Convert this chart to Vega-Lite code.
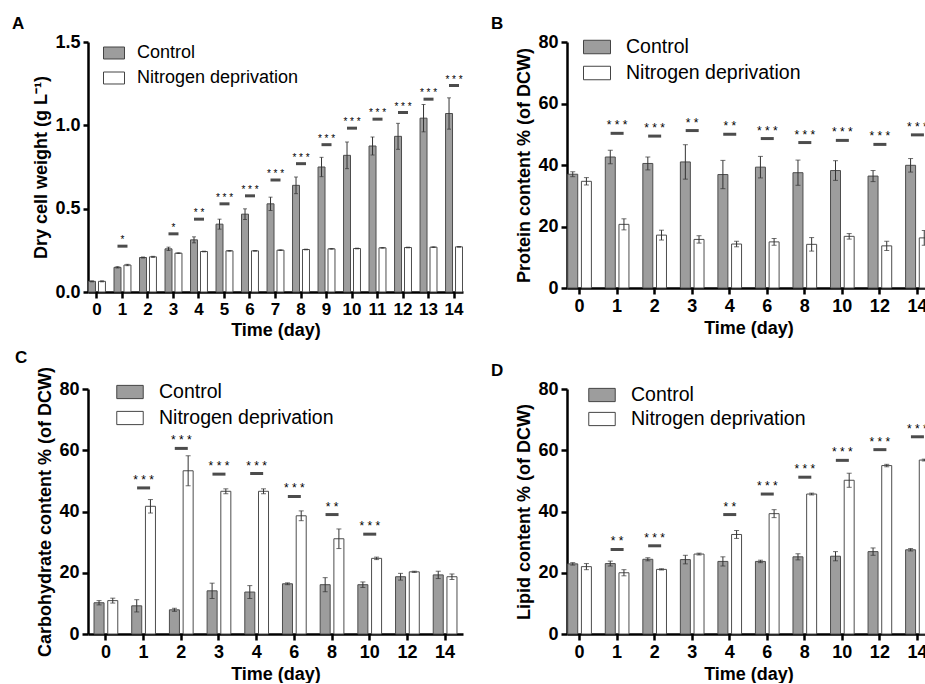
{
"$schema":"https://vega.github.io/schema/vega-lite/v6.json",
"padding":{"left":12,"top":15,"right":0,"bottom":0},
"columns":2,
"spacing":{"row":9,"column":28},
"config":{"font":"Liberation Sans","view":{"stroke":null},
"axis":{"domainColor":"#000","domainWidth":2.5,"tickColor":"#000","tickWidth":2.5,"tickSize":6,"labelFontWeight":"bold","labelFontSize":18,"labelColor":"#000","titleFontWeight":"bold","titleFontSize":18,"titleColor":"#000","grid":false,"labelPadding":3},
"axisX":{"labelAngle":0,"titlePadding":4},
"axisY":{"titlePadding":4},
"legend":{"padding":0,"labelFontWeight":"normal","labelColor":"#000","symbolStrokeColor":"#444","symbolStrokeWidth":1,"title":null,"labelLimit":0},
"title":{"fontSize":17,"fontWeight":"bold","color":"#000","anchor":"start","frame":"group"}},
"resolve":{"scale":{"x":"independent","y":"independent","fill":"independent","xOffset":"independent"}},
"concat":[
{"title":{"text":"A","dx":-76,"offset":0},
"width":375,"height":250,
"data":{"values":[
{"day":"0","g":"Control","v":0.064,"lo":0.061,"hi":0.067},
{"day":"1","g":"Control","v":0.148,"lo":0.144,"hi":0.152},
{"day":"2","g":"Control","v":0.207,"lo":0.204,"hi":0.210},
{"day":"3","g":"Control","v":0.259,"lo":0.249,"hi":0.269},
{"day":"4","g":"Control","v":0.313,"lo":0.295,"hi":0.331},
{"day":"5","g":"Control","v":0.407,"lo":0.377,"hi":0.437},
{"day":"6","g":"Control","v":0.467,"lo":0.435,"hi":0.499},
{"day":"7","g":"Control","v":0.529,"lo":0.489,"hi":0.569},
{"day":"8","g":"Control","v":0.640,"lo":0.590,"hi":0.690},
{"day":"9","g":"Control","v":0.750,"lo":0.692,"hi":0.808},
{"day":"10","g":"Control","v":0.820,"lo":0.740,"hi":0.900},
{"day":"11","g":"Control","v":0.876,"lo":0.822,"hi":0.930},
{"day":"12","g":"Control","v":0.934,"lo":0.856,"hi":1.012},
{"day":"13","g":"Control","v":1.043,"lo":0.961,"hi":1.125},
{"day":"14","g":"Control","v":1.071,"lo":0.977,"hi":1.165},
{"day":"0","g":"Nitrogen deprivation","v":0.064,"lo":0.061,"hi":0.067},
{"day":"1","g":"Nitrogen deprivation","v":0.162,"lo":0.158,"hi":0.166},
{"day":"2","g":"Nitrogen deprivation","v":0.211,"lo":0.208,"hi":0.214},
{"day":"3","g":"Nitrogen deprivation","v":0.233,"lo":0.231,"hi":0.235},
{"day":"4","g":"Nitrogen deprivation","v":0.243,"lo":0.241,"hi":0.245},
{"day":"5","g":"Nitrogen deprivation","v":0.247,"lo":0.245,"hi":0.249},
{"day":"6","g":"Nitrogen deprivation","v":0.247,"lo":0.245,"hi":0.249},
{"day":"7","g":"Nitrogen deprivation","v":0.251,"lo":0.249,"hi":0.253},
{"day":"8","g":"Nitrogen deprivation","v":0.255,"lo":0.253,"hi":0.257},
{"day":"9","g":"Nitrogen deprivation","v":0.259,"lo":0.257,"hi":0.261},
{"day":"10","g":"Nitrogen deprivation","v":0.261,"lo":0.259,"hi":0.263},
{"day":"11","g":"Nitrogen deprivation","v":0.265,"lo":0.263,"hi":0.267},
{"day":"12","g":"Nitrogen deprivation","v":0.267,"lo":0.265,"hi":0.269},
{"day":"13","g":"Nitrogen deprivation","v":0.269,"lo":0.267,"hi":0.271},
{"day":"14","g":"Nitrogen deprivation","v":0.271,"lo":0.269,"hi":0.273}
]},
"encoding":{"x":{"field":"day","type":"nominal","scale":{"domain":["0","1","2","3","4","5","6","7","8","9","10","11","12","13","14"],"paddingInner":0.336,"paddingOuter":0.02},"axis":{"title":"Time (day)","labelFontSize":17}}},
"layer":[
{"mark":{"type":"bar","stroke":"#4d4d4d","strokeWidth":1},
"encoding":{"xOffset":{"field":"g","type":"nominal","scale":{"domain":["Control","Nitrogen deprivation"],"paddingInner":0.3}},
"y":{"field":"v","type":"quantitative","scale":{"domain":[0,1.5],"nice":false},"axis":{"values":[0,0.5,1,1.5],"format":".1f","title":"Dry cell weight (g L⁻¹)","tickSize":5}},
"fill":{"field":"g","type":"nominal","scale":{"domain":["Control","Nitrogen deprivation"],"range":["#9d9d9d","#ffffff"]},
"legend":{"orient":"none","legendX":15,"legendY":0,"symbolType":"M-1,-0.57H1V0.57H-1Z","symbolSize":441,"labelFontSize":18,"labelOffset":12,"rowPadding":5}}}},
{"mark":{"type":"rule","color":"#333","strokeWidth":1},"encoding":{"xOffset":{"field":"g","type":"nominal"},"y":{"field":"lo","type":"quantitative","scale":{"domain":[0,1.5],"nice":false}},"y2":{"field":"hi"}}},
{"mark":{"type":"tick","color":"#333","thickness":1,"size":4},"encoding":{"xOffset":{"field":"g","type":"nominal"},"y":{"field":"lo","type":"quantitative","scale":{"domain":[0,1.5],"nice":false}}}},
{"mark":{"type":"tick","color":"#333","thickness":1,"size":4},"encoding":{"xOffset":{"field":"g","type":"nominal"},"y":{"field":"hi","type":"quantitative","scale":{"domain":[0,1.5],"nice":false}}}},
{"data":{"values":[
{"day":"1","s":0.275,"t":"*"},{"day":"3","s":0.349,"t":"*"},{"day":"4","s":0.437,"t":"* *"},{"day":"5","s":0.529,"t":"* * *"},{"day":"6","s":0.577,"t":"* * *"},{"day":"7","s":0.672,"t":"* * *"},{"day":"8","s":0.770,"t":"* * *"},{"day":"9","s":0.884,"t":"* * *"},{"day":"10","s":0.983,"t":"* * *"},{"day":"11","s":1.037,"t":"* * *"},{"day":"12","s":1.077,"t":"* * *"},{"day":"13","s":1.157,"t":"* * *"},{"day":"14","s":1.239,"t":"* * *"}]},
"layer":[
{"mark":{"type":"tick","color":"#000","thickness":3,"size":10},"encoding":{"y":{"field":"s","type":"quantitative","scale":{"domain":[0,1.5],"nice":false}}}},
{"mark":{"type":"text","baseline":"alphabetic","dy":-3,"fontSize":10,"color":"#000"},"encoding":{"y":{"field":"s","type":"quantitative","scale":{"domain":[0,1.5],"nice":false}},"text":{"field":"t"}}}
]}
]},
{"title":{"text":"B","dx":-76,"offset":0},
"width":363,"height":246,
"data":{"values":[
{"day":"0","g":"Control","v":37.0,"lo":36.2,"hi":37.8},
{"day":"1","g":"Control","v":42.6,"lo":40.4,"hi":44.8},
{"day":"2","g":"Control","v":40.5,"lo":38.4,"hi":42.6},
{"day":"3","g":"Control","v":41.0,"lo":35.4,"hi":46.6},
{"day":"4","g":"Control","v":36.9,"lo":32.3,"hi":41.5},
{"day":"6","g":"Control","v":39.3,"lo":35.8,"hi":42.8},
{"day":"8","g":"Control","v":37.5,"lo":33.4,"hi":41.6},
{"day":"10","g":"Control","v":38.2,"lo":35.0,"hi":41.4},
{"day":"12","g":"Control","v":36.4,"lo":34.6,"hi":38.2},
{"day":"14","g":"Control","v":39.9,"lo":37.7,"hi":42.1},
{"day":"0","g":"Nitrogen deprivation","v":34.7,"lo":33.5,"hi":35.9},
{"day":"1","g":"Nitrogen deprivation","v":20.7,"lo":18.9,"hi":22.5},
{"day":"2","g":"Nitrogen deprivation","v":17.2,"lo":15.6,"hi":18.8},
{"day":"3","g":"Nitrogen deprivation","v":15.8,"lo":14.6,"hi":17.0},
{"day":"4","g":"Nitrogen deprivation","v":14.3,"lo":13.4,"hi":15.2},
{"day":"6","g":"Nitrogen deprivation","v":15.0,"lo":13.9,"hi":16.1},
{"day":"8","g":"Nitrogen deprivation","v":14.2,"lo":12.0,"hi":16.4},
{"day":"10","g":"Nitrogen deprivation","v":16.8,"lo":15.9,"hi":17.7},
{"day":"12","g":"Nitrogen deprivation","v":13.7,"lo":12.2,"hi":15.2},
{"day":"14","g":"Nitrogen deprivation","v":16.3,"lo":13.9,"hi":18.7}
]},
"encoding":{"x":{"field":"day","type":"nominal","scale":{"domain":["0","1","2","3","4","6","8","10","12","14"],"paddingInner":0.37,"paddingOuter":0.02},"axis":{"title":"Time (day)"}}},
"layer":[
{"mark":{"type":"bar","stroke":"#4d4d4d","strokeWidth":1},
"encoding":{"xOffset":{"field":"g","type":"nominal","scale":{"domain":["Control","Nitrogen deprivation"],"paddingInner":0.27}},
"y":{"field":"v","type":"quantitative","scale":{"domain":[0,80],"nice":false},"axis":{"values":[0,20,40,60,80],"title":"Protein content % (of DCW)"}},
"fill":{"field":"g","type":"nominal","scale":{"domain":["Control","Nitrogen deprivation"],"range":["#9d9d9d","#ffffff"]},
"legend":{"orient":"none","legendX":16,"legendY":-9,"symbolType":"M-1,-0.5H1V0.5H-1Z","symbolSize":729,"labelFontSize":19.5,"labelOffset":15,"rowPadding":2}}}},
{"mark":{"type":"rule","color":"#333","strokeWidth":1},"encoding":{"xOffset":{"field":"g","type":"nominal"},"y":{"field":"lo","type":"quantitative","scale":{"domain":[0,80],"nice":false}},"y2":{"field":"hi"}}},
{"mark":{"type":"tick","color":"#333","thickness":1,"size":5},"encoding":{"xOffset":{"field":"g","type":"nominal"},"y":{"field":"lo","type":"quantitative","scale":{"domain":[0,80],"nice":false}}}},
{"mark":{"type":"tick","color":"#333","thickness":1,"size":5},"encoding":{"xOffset":{"field":"g","type":"nominal"},"y":{"field":"hi","type":"quantitative","scale":{"domain":[0,80],"nice":false}}}},
{"data":{"values":[
{"day":"1","s":50.3,"t":"* * *"},{"day":"2","s":49.4,"t":"* * *"},{"day":"3","s":51.2,"t":"* *"},{"day":"4","s":50.0,"t":"* *"},{"day":"6","s":48.6,"t":"* * *"},{"day":"8","s":47.3,"t":"* * *"},{"day":"10","s":48.0,"t":"* * *"},{"day":"12","s":46.7,"t":"* * *"},{"day":"14","s":49.8,"t":"* * *"}]},
"layer":[
{"mark":{"type":"tick","color":"#000","thickness":3,"size":13},"encoding":{"y":{"field":"s","type":"quantitative","scale":{"domain":[0,80],"nice":false}}}},
{"mark":{"type":"text","baseline":"alphabetic","dy":-4,"fontSize":12,"color":"#000"},"encoding":{"y":{"field":"s","type":"quantitative","scale":{"domain":[0,80],"nice":false}},"text":{"field":"t"}}}
]}
]},
{"title":{"text":"C","dx":-73,"offset":0},
"width":375,"height":245,
"data":{"values":[
{"day":"0","g":"Control","v":10.2,"lo":9.5,"hi":10.9},
{"day":"1","g":"Control","v":9.2,"lo":7.2,"hi":11.2},
{"day":"2","g":"Control","v":7.9,"lo":7.4,"hi":8.4},
{"day":"3","g":"Control","v":14.1,"lo":11.6,"hi":16.6},
{"day":"4","g":"Control","v":13.7,"lo":11.6,"hi":15.8},
{"day":"6","g":"Control","v":16.4,"lo":16.1,"hi":16.7},
{"day":"8","g":"Control","v":16.1,"lo":13.8,"hi":18.4},
{"day":"10","g":"Control","v":16.1,"lo":15.2,"hi":17.0},
{"day":"12","g":"Control","v":18.7,"lo":17.6,"hi":19.8},
{"day":"14","g":"Control","v":19.3,"lo":18.1,"hi":20.5},
{"day":"0","g":"Nitrogen deprivation","v":10.9,"lo":10.1,"hi":11.7},
{"day":"1","g":"Nitrogen deprivation","v":41.7,"lo":39.5,"hi":43.9},
{"day":"2","g":"Nitrogen deprivation","v":53.3,"lo":48.4,"hi":58.2},
{"day":"3","g":"Nitrogen deprivation","v":46.6,"lo":45.8,"hi":47.4},
{"day":"4","g":"Nitrogen deprivation","v":46.6,"lo":45.8,"hi":47.4},
{"day":"6","g":"Nitrogen deprivation","v":38.6,"lo":37.0,"hi":40.2},
{"day":"8","g":"Nitrogen deprivation","v":31.1,"lo":27.9,"hi":34.3},
{"day":"10","g":"Nitrogen deprivation","v":24.7,"lo":24.3,"hi":25.1},
{"day":"12","g":"Nitrogen deprivation","v":20.3,"lo":20.1,"hi":20.5},
{"day":"14","g":"Nitrogen deprivation","v":18.7,"lo":17.8,"hi":19.6}
]},
"encoding":{"x":{"field":"day","type":"nominal","scale":{"domain":["0","1","2","3","4","6","8","10","12","14"],"paddingInner":0.37,"paddingOuter":0.16},"axis":{"title":"Time (day)"}}},
"layer":[
{"mark":{"type":"bar","stroke":"#4d4d4d","strokeWidth":1},
"encoding":{"xOffset":{"field":"g","type":"nominal","scale":{"domain":["Control","Nitrogen deprivation"],"paddingInner":0.27}},
"y":{"field":"v","type":"quantitative","scale":{"domain":[0,80],"nice":false},"axis":{"values":[0,20,40,60,80],"title":"Carbohydrate content % (of DCW)"}},
"fill":{"field":"g","type":"nominal","scale":{"domain":["Control","Nitrogen deprivation"],"range":["#9d9d9d","#ffffff"]},
"legend":{"orient":"none","legendX":28,"legendY":-11,"symbolType":"M-1,-0.5H1V0.5H-1Z","symbolSize":700,"labelFontSize":19.5,"labelOffset":15,"rowPadding":2}}}},
{"mark":{"type":"rule","color":"#333","strokeWidth":1},"encoding":{"xOffset":{"field":"g","type":"nominal"},"y":{"field":"lo","type":"quantitative","scale":{"domain":[0,80],"nice":false}},"y2":{"field":"hi"}}},
{"mark":{"type":"tick","color":"#333","thickness":1,"size":5},"encoding":{"xOffset":{"field":"g","type":"nominal"},"y":{"field":"lo","type":"quantitative","scale":{"domain":[0,80],"nice":false}}}},
{"mark":{"type":"tick","color":"#333","thickness":1,"size":5},"encoding":{"xOffset":{"field":"g","type":"nominal"},"y":{"field":"hi","type":"quantitative","scale":{"domain":[0,80],"nice":false}}}},
{"data":{"values":[
{"day":"1","s":47.7,"t":"* * *"},{"day":"2","s":60.6,"t":"* * *"},{"day":"3","s":52.2,"t":"* * *"},{"day":"4","s":52.4,"t":"* * *"},{"day":"6","s":44.9,"t":"* * *"},{"day":"8","s":39.0,"t":"* *"},{"day":"10","s":32.6,"t":"* * *"}]},
"layer":[
{"mark":{"type":"tick","color":"#000","thickness":3,"size":13},"encoding":{"y":{"field":"s","type":"quantitative","scale":{"domain":[0,80],"nice":false}}}},
{"mark":{"type":"text","baseline":"alphabetic","dy":-4,"fontSize":12,"color":"#000"},"encoding":{"y":{"field":"s","type":"quantitative","scale":{"domain":[0,80],"nice":false}},"text":{"field":"t"}}}
]}
]},
{"title":{"text":"D","dx":-76,"offset":0},
"width":363,"height":245,
"data":{"values":[
{"day":"0","g":"Control","v":22.9,"lo":22.5,"hi":23.3},
{"day":"1","g":"Control","v":23.0,"lo":22.2,"hi":23.8},
{"day":"2","g":"Control","v":24.4,"lo":23.9,"hi":24.9},
{"day":"3","g":"Control","v":24.3,"lo":22.9,"hi":25.7},
{"day":"4","g":"Control","v":23.7,"lo":22.2,"hi":25.2},
{"day":"6","g":"Control","v":23.7,"lo":23.3,"hi":24.1},
{"day":"8","g":"Control","v":25.2,"lo":24.2,"hi":26.2},
{"day":"10","g":"Control","v":25.4,"lo":23.9,"hi":26.9},
{"day":"12","g":"Control","v":26.9,"lo":25.7,"hi":28.1},
{"day":"14","g":"Control","v":27.5,"lo":27.1,"hi":27.9},
{"day":"0","g":"Nitrogen deprivation","v":22.0,"lo":21.0,"hi":23.0},
{"day":"1","g":"Nitrogen deprivation","v":20.0,"lo":19.0,"hi":21.0},
{"day":"2","g":"Nitrogen deprivation","v":21.1,"lo":20.9,"hi":21.3},
{"day":"3","g":"Nitrogen deprivation","v":26.1,"lo":25.8,"hi":26.4},
{"day":"4","g":"Nitrogen deprivation","v":32.5,"lo":31.2,"hi":33.8},
{"day":"6","g":"Nitrogen deprivation","v":39.3,"lo":38.0,"hi":40.6},
{"day":"8","g":"Nitrogen deprivation","v":45.7,"lo":45.4,"hi":46.0},
{"day":"10","g":"Nitrogen deprivation","v":50.2,"lo":47.9,"hi":52.5},
{"day":"12","g":"Nitrogen deprivation","v":55.0,"lo":54.6,"hi":55.4},
{"day":"14","g":"Nitrogen deprivation","v":56.8,"lo":56.5,"hi":57.1}
]},
"encoding":{"x":{"field":"day","type":"nominal","scale":{"domain":["0","1","2","3","4","6","8","10","12","14"],"paddingInner":0.37,"paddingOuter":0.02},"axis":{"title":"Time (day)"}}},
"layer":[
{"mark":{"type":"bar","stroke":"#4d4d4d","strokeWidth":1},
"encoding":{"xOffset":{"field":"g","type":"nominal","scale":{"domain":["Control","Nitrogen deprivation"],"paddingInner":0.27}},
"y":{"field":"v","type":"quantitative","scale":{"domain":[0,80],"nice":false},"axis":{"values":[0,20,40,60,80],"title":"Lipid content % (of DCW)"}},
"fill":{"field":"g","type":"nominal","scale":{"domain":["Control","Nitrogen deprivation"],"range":["#9d9d9d","#ffffff"]},
"legend":{"orient":"none","legendX":21,"legendY":-8,"symbolType":"M-1,-0.5H1V0.5H-1Z","symbolSize":700,"labelFontSize":19.5,"labelOffset":15,"rowPadding":0}}}},
{"mark":{"type":"rule","color":"#333","strokeWidth":1},"encoding":{"xOffset":{"field":"g","type":"nominal"},"y":{"field":"lo","type":"quantitative","scale":{"domain":[0,80],"nice":false}},"y2":{"field":"hi"}}},
{"mark":{"type":"tick","color":"#333","thickness":1,"size":5},"encoding":{"xOffset":{"field":"g","type":"nominal"},"y":{"field":"lo","type":"quantitative","scale":{"domain":[0,80],"nice":false}}}},
{"mark":{"type":"tick","color":"#333","thickness":1,"size":5},"encoding":{"xOffset":{"field":"g","type":"nominal"},"y":{"field":"hi","type":"quantitative","scale":{"domain":[0,80],"nice":false}}}},
{"data":{"values":[
{"day":"1","s":27.6,"t":"* *"},{"day":"2","s":28.8,"t":"* * *"},{"day":"4","s":39.0,"t":"* *"},{"day":"6","s":45.7,"t":"* * *"},{"day":"8","s":51.2,"t":"* * *"},{"day":"10","s":56.7,"t":"* * *"},{"day":"12","s":60.2,"t":"* * *"},{"day":"14","s":64.4,"t":"* * *"}]},
"layer":[
{"mark":{"type":"tick","color":"#000","thickness":3,"size":13},"encoding":{"y":{"field":"s","type":"quantitative","scale":{"domain":[0,80],"nice":false}}}},
{"mark":{"type":"text","baseline":"alphabetic","dy":-4,"fontSize":12,"color":"#000"},"encoding":{"y":{"field":"s","type":"quantitative","scale":{"domain":[0,80],"nice":false}},"text":{"field":"t"}}}
]}
]}
]
}
